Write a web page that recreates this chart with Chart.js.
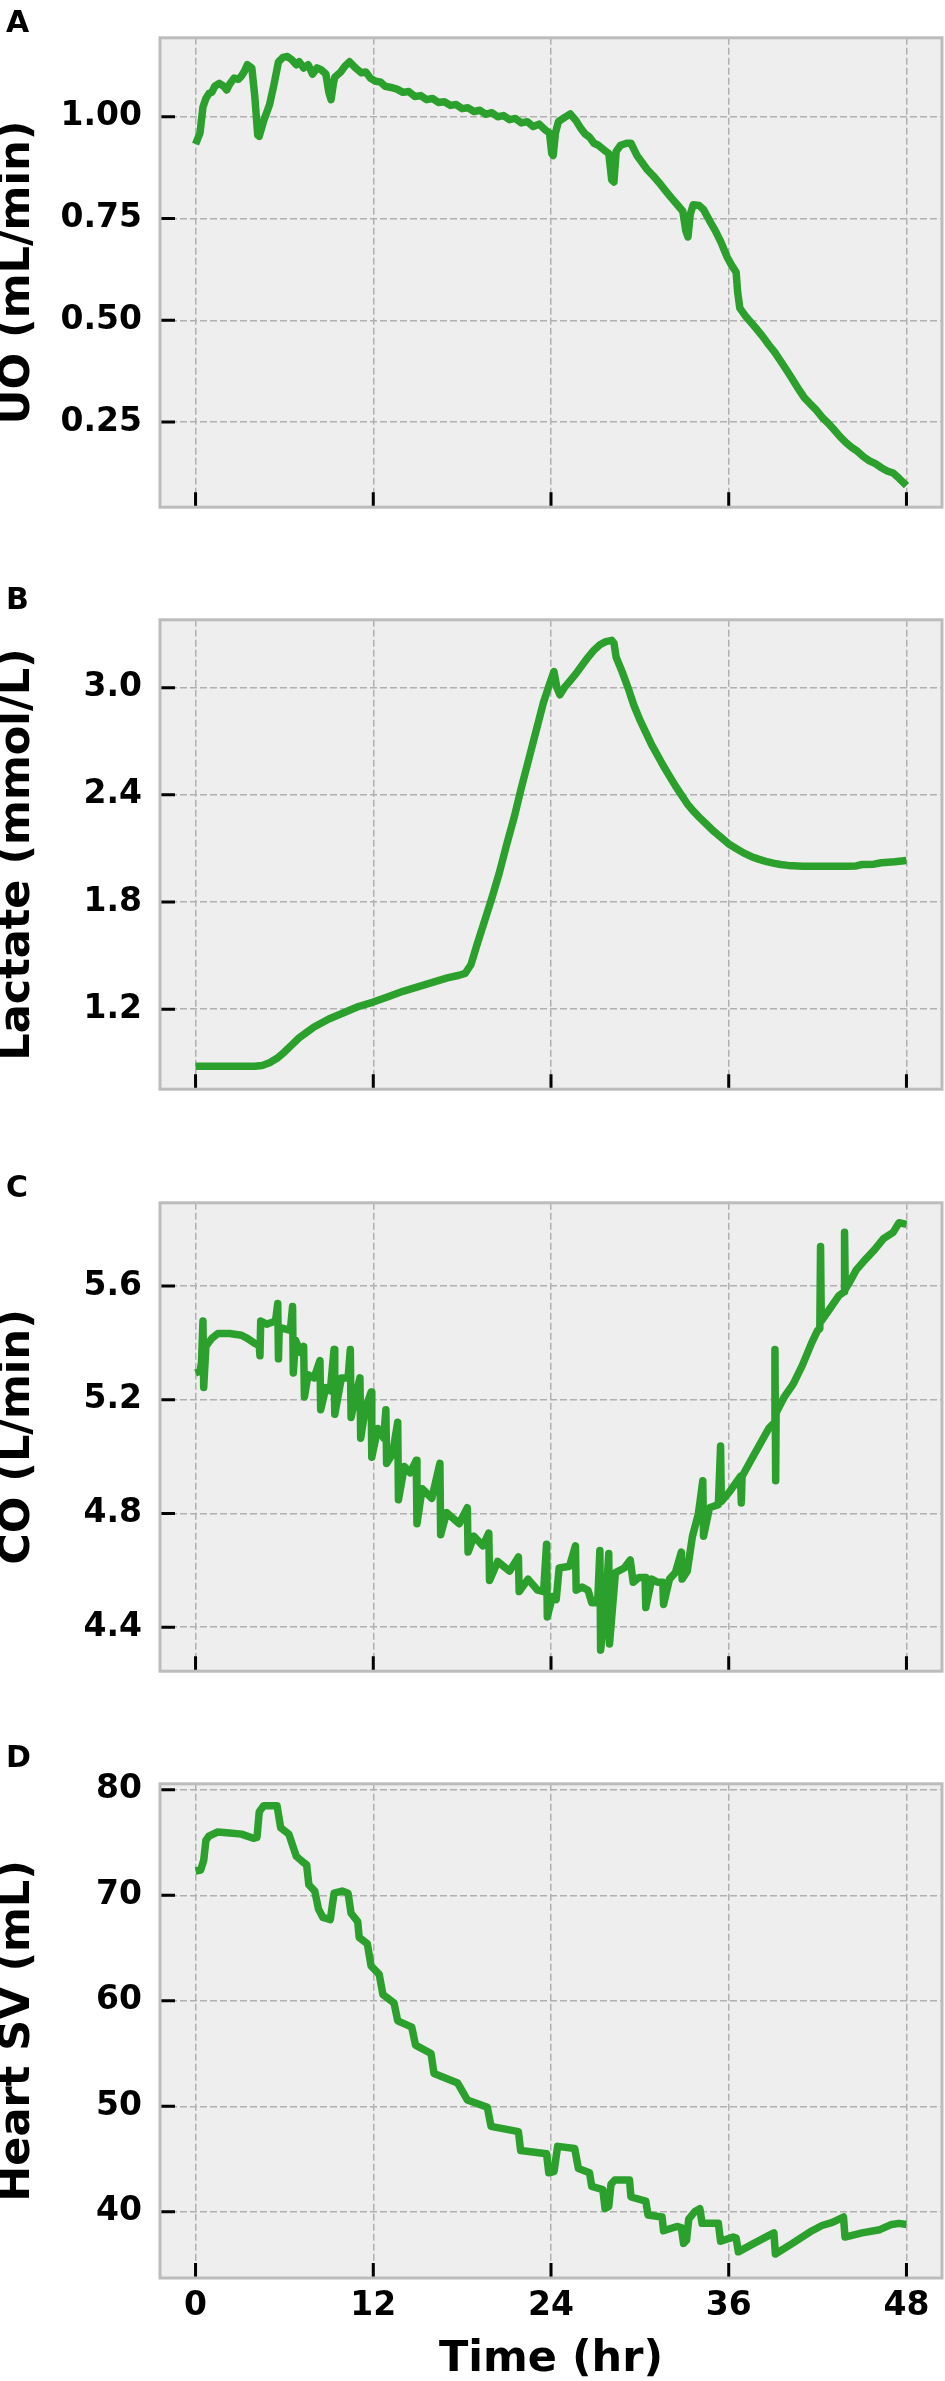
<!DOCTYPE html>
<html>
<head>
<meta charset="utf-8">
<script src="https://cdn.jsdelivr.net/npm/chart.js@4.4.1/dist/chart.umd.min.js"></script>
<style>
  body { margin: 0; background: #fff; }
  #page { position: relative; width: 945px; height: 2381px; }
  canvas { position: absolute; left: 0; display: block; }
  .tag { position: absolute; left: 6px; font: bold 30px "DejaVu Sans"; line-height: 30px; color: #000; }
</style>
</head>
<body>
<div id="page">
  <canvas id="uoChart"></canvas>
  <canvas id="lactateChart"></canvas>
  <canvas id="coChart"></canvas>
  <canvas id="svChart"></canvas>
  <div class="tag" style="top:7px">A</div>
  <div class="tag" style="top:584px">B</div>
  <div class="tag" style="top:1172px">C</div>
  <div class="tag" style="top:1742px">D</div>
</div>
<script>
// x axis ticks (hours)
const hourTicks = [0, 12, 24, 36, 48];

// y axis ticks per panel
const uoTicks = [0.25, 0.50, 0.75, 1.00];
const lactateTicks = [1.2, 1.8, 2.4, 3.0];
const coTicks = [4.4, 4.8, 5.2, 5.6];
const svTicks = [40, 50, 60, 70, 80];

// A: urine output (mL/min)
const uoHours = [0, 0.3, 0.5, 0.7, 0.9, 1.1, 1.3, 1.6, 1.9, 2.1, 2.3, 2.6, 2.9, 3.1, 3.3, 3.5, 3.8, 4.0, 4.2, 4.3,
  4.6, 5.0, 5.3, 5.6, 5.9, 6.2, 6.5, 6.8, 7.0, 7.3, 7.6, 7.9, 8.2, 8.5, 8.8, 9.0, 9.15, 9.3, 9.4, 9.8,
  10.1, 10.4, 10.8, 11.2, 11.5, 11.8, 12.1, 12.5, 12.8, 13.2, 13.6, 14.0, 14.4, 14.8, 15.2, 15.6, 16.0, 16.4, 16.8, 17.2,
  17.6, 18.0, 18.4, 18.8, 19.2, 19.6, 20.0, 20.4, 20.8, 21.2, 21.6, 22.0, 22.4, 22.8, 23.2, 23.6, 23.9, 24.05, 24.15, 24.3,
  24.5, 24.9, 25.3, 25.7, 26.0, 26.3, 26.6, 26.9, 27.2, 27.6, 27.9, 28.1, 28.25, 28.4, 28.7, 29.1, 29.4, 29.8, 30.1, 30.5,
  30.9, 31.3, 31.7, 32.1, 32.5, 32.9, 33.1, 33.25, 33.4, 33.6, 34.0, 34.3, 34.7, 35.1, 35.5, 35.9, 36.2, 36.5, 36.6, 36.75,
  37.1, 37.5, 37.9, 38.3, 38.7, 39.1, 39.5, 39.9, 40.3, 40.7, 41.1, 41.5, 41.9, 42.3, 42.7, 43.1, 43.5, 43.9, 44.3, 44.7,
  45.1, 45.5, 45.9, 46.3, 46.7, 47.1, 47.5, 48.0];
const uoValues = [0.933, 0.96, 1.024, 1.045, 1.057, 1.06, 1.075, 1.082, 1.075, 1.066, 1.08, 1.095, 1.092, 1.10, 1.112, 1.128, 1.12, 1.05, 0.955, 0.952,
  0.99, 1.03, 1.08, 1.135, 1.146, 1.148, 1.14, 1.128, 1.135, 1.12, 1.128, 1.105, 1.12, 1.115, 1.105, 1.06, 1.042, 1.08, 1.097, 1.11,
  1.125, 1.135, 1.12, 1.108, 1.11, 1.095, 1.088, 1.085, 1.075, 1.072, 1.068, 1.06, 1.062, 1.05, 1.052, 1.042, 1.045, 1.035, 1.037, 1.028,
  1.03, 1.02, 1.022, 1.013, 1.016, 1.006, 1.01, 1.0, 1.003, 0.993, 0.996, 0.985, 0.988, 0.976, 0.982, 0.968, 0.96, 0.91, 0.905, 0.96,
  0.988, 0.998, 1.007, 0.99, 0.972, 0.958, 0.95, 0.935, 0.93, 0.918, 0.91, 0.845, 0.84, 0.915, 0.93, 0.935, 0.935, 0.905, 0.89, 0.87,
  0.855, 0.838, 0.82, 0.802, 0.785, 0.768, 0.72, 0.705, 0.76, 0.784, 0.782, 0.772, 0.745, 0.72, 0.69, 0.655, 0.635, 0.618, 0.57, 0.53,
  0.512, 0.495, 0.478, 0.46, 0.44, 0.422, 0.40, 0.378, 0.355, 0.332, 0.31, 0.295, 0.28, 0.262, 0.248, 0.232, 0.215, 0.20, 0.188, 0.178,
  0.165, 0.155, 0.148, 0.138, 0.13, 0.125, 0.112, 0.094];

// B: lactate (mmol/L)
const lactateHours = [0, 4.0, 4.5, 5.0, 5.5, 6.0, 6.5, 7.0, 7.5, 8.0, 9.0, 10.0, 11.0, 12.0, 13.0, 14.0, 15.0, 16.0, 17.0, 17.8,
  18.2, 18.6, 19.0, 19.5, 20.0, 20.5, 21.0, 21.5, 22.0, 22.5, 23.0, 23.5, 23.9, 24.2, 24.4, 24.6, 24.9, 25.3, 25.7, 26.1,
  26.5, 26.9, 27.3, 27.7, 28.1, 28.25, 28.4, 28.8, 29.2, 29.6, 30.0, 30.4, 30.8, 31.2, 31.6, 32.0, 32.4, 32.8, 33.2, 33.6,
  34.0, 34.5, 35.0, 35.5, 36.0, 36.5, 37.0, 37.5, 38.0, 38.5, 39.0, 39.5, 40.0, 41.0, 42.0, 43.0, 44.0, 44.6, 45.0, 45.8,
  46.3, 47.2, 48.0];
const lactateValues = [0.88, 0.88, 0.885, 0.90, 0.925, 0.96, 1.0, 1.04, 1.07, 1.10, 1.145, 1.18, 1.215, 1.24, 1.27, 1.30, 1.325, 1.35, 1.375, 1.39,
  1.40, 1.45, 1.56, 1.69, 1.82, 1.96, 2.12, 2.27, 2.44, 2.60, 2.76, 2.92, 3.02, 3.09, 3.0, 2.96, 3.0, 3.04, 3.08, 3.125,
  3.17, 3.21, 3.24, 3.258, 3.265, 3.25, 3.17, 3.09, 3.0, 2.90, 2.82, 2.75, 2.68, 2.62, 2.56, 2.505, 2.45, 2.40, 2.35, 2.31,
  2.275, 2.235, 2.195, 2.16, 2.125, 2.10, 2.075, 2.055, 2.04, 2.028, 2.018, 2.01, 2.005, 2.0, 2.0, 2.0, 2.0, 2.002, 2.01, 2.012,
  2.02, 2.025, 2.032];

// C: cardiac output (L/min)
const coHours = [0, 0.3, 0.4, 0.5, 0.55, 0.7, 1.1, 1.5, 2.3, 3.1, 3.5, 3.95, 4.3, 4.35, 4.4, 4.8, 5.4, 5.55, 5.6, 5.65,
  6.4, 6.55, 6.6, 6.75, 7.1, 7.3, 7.35, 7.6, 8.0, 8.4, 8.45, 8.8, 9.1, 9.35, 9.4, 9.85, 10.3, 10.45, 10.5, 10.9,
  11.1, 11.15, 11.45, 11.85, 11.9, 12.3, 12.7, 12.85, 12.9, 13.3, 13.65, 13.7, 14.1, 14.5, 14.9, 14.95, 15.3, 15.95, 16.5, 16.55,
  16.95, 17.8, 18.35, 18.4, 18.8, 19.4, 19.8, 19.85, 20.4, 21.2, 21.8, 21.85, 22.45, 23.1, 23.5, 23.7, 23.75, 24.1, 24.35, 24.55,
  25.25, 25.65, 25.7, 26.1, 26.5, 26.75, 27.15, 27.3, 27.35, 27.7, 27.9, 27.95, 28.35, 28.95, 29.35, 29.55, 29.95, 30.35, 30.4, 30.8,
  31.2, 31.55, 31.6, 32.0, 32.4, 32.8, 32.85, 33.2, 33.55, 33.95, 34.25, 34.3, 34.7, 35.3, 35.45, 35.5, 36.05, 36.8, 36.85, 36.9,
  37.5, 38.1, 38.7, 39.1, 39.12, 39.17, 39.2, 39.75, 40.35, 40.97, 41.6, 42.0, 42.15, 42.2, 42.25, 42.85, 43.45, 43.8, 43.82, 43.87,
  44.25, 44.6, 45.25, 45.85, 46.45, 47.1, 47.5, 48.0];
const coValues = [5.294, 5.30, 5.33, 5.477, 5.243, 5.388, 5.416, 5.433, 5.433, 5.427, 5.416, 5.40, 5.39, 5.355, 5.477, 5.466, 5.477, 5.539, 5.344, 5.455,
  5.444, 5.528, 5.294, 5.41, 5.366, 5.388, 5.21, 5.288, 5.277, 5.338, 5.165, 5.243, 5.232, 5.377, 5.149, 5.277, 5.277, 5.377, 5.138, 5.232,
  5.277, 5.065, 5.165, 5.227, 4.998, 5.099, 5.065, 5.165, 4.976, 5.009, 5.121, 4.848, 4.965, 4.943, 4.987, 4.764, 4.887, 4.853, 4.976, 4.725,
  4.803, 4.764, 4.82, 4.664, 4.72, 4.686, 4.731, 4.564, 4.631, 4.597, 4.647, 4.525, 4.569, 4.53, 4.525, 4.692, 4.436, 4.508, 4.497, 4.608,
  4.614, 4.686, 4.53, 4.541, 4.53, 4.486, 4.486, 4.67, 4.319, 4.486, 4.659, 4.341, 4.592, 4.608, 4.636, 4.558, 4.575, 4.575, 4.469, 4.569,
  4.558, 4.558, 4.48, 4.569, 4.592, 4.664, 4.569, 4.597, 4.72, 4.798, 4.915, 4.72, 4.82, 4.831, 5.037, 4.842, 4.876, 4.931, 4.837, 4.93,
  4.987, 5.043, 5.099, 5.12, 5.377, 4.915, 5.154, 5.21, 5.255, 5.321, 5.40, 5.444, 5.45, 5.739, 5.477, 5.522, 5.567, 5.58, 5.789, 5.589,
  5.622, 5.656, 5.695, 5.728, 5.767, 5.789, 5.823, 5.817];

// D: heart stroke volume (mL)
const svHours = [0, 0.35, 0.55, 0.7, 0.9, 1.5, 2.3, 3.1, 3.9, 4.15, 4.3, 4.6, 5.5, 5.75, 6.3, 6.8, 7.3, 7.5, 7.65, 8.05,
  8.3, 8.6, 9.1, 9.35, 9.9, 10.3, 10.5, 10.95, 11.05, 11.6, 11.85, 12.4, 12.65, 13.4, 13.65, 14.6, 14.85, 15.9, 16.1, 17.7,
  18.35, 19.7, 19.95, 21.8, 21.95, 23.7, 23.85, 24.2, 24.45, 25.6, 25.85, 26.6, 26.75, 27.5, 27.65, 27.9, 28.05, 28.3, 29.3, 29.4,
  30.4, 30.55, 31.5, 31.6, 32.5, 32.8, 32.95, 33.15, 33.3, 33.7, 34.05, 34.2, 35.3, 35.45, 36.3, 36.5, 36.65, 37.7, 38.5, 39.05,
  39.15, 40.3, 41.5, 42.3, 43.0, 43.75, 43.85, 45.0, 46.2, 47.0, 47.5, 48.0];
const svValues = [72.3, 72.4, 73.3, 75.2, 75.6, 76.0, 75.9, 75.8, 75.4, 75.5, 77.9, 78.5, 78.5, 76.4, 75.8, 73.7, 73.1, 72.9, 71.0, 70.4,
  68.7, 67.9, 67.7, 70.2, 70.4, 70.2, 68.3, 67.5, 66.0, 65.4, 63.3, 62.5, 60.6, 59.8, 58.1, 57.5, 55.8, 55.0, 53.1, 52.2,
  50.6, 49.9, 48.1, 47.6, 45.8, 45.5, 43.7, 43.8, 46.2, 46.0, 44.1, 43.7, 42.4, 42.1, 40.3, 40.5, 42.6, 43.0, 43.0, 41.4,
  41.0, 39.7, 39.5, 38.2, 38.6, 38.5, 37.0, 37.3, 39.3, 40.0, 40.3, 38.9, 38.9, 37.2, 37.6, 37.5, 36.2, 37.0, 37.6, 38.0,
  36.0, 37.0, 38.1, 38.7, 39.0, 39.5, 37.6, 38.0, 38.3, 38.8, 38.9, 38.8];

const fontFamily = "DejaVu Sans";
const lineGreen = "#2ca02c";

// grey panel background, frame and inward tick marks
const panelFrame = {
  id: "panelFrame",
  beforeDraw(chart) {
    const { ctx, chartArea: a } = chart;
    ctx.save();
    ctx.fillStyle = "#eeeeee";
    ctx.fillRect(a.left, a.top, a.right - a.left, a.bottom - a.top);
    ctx.restore();
  },
  afterDraw(chart) {
    const { ctx, chartArea: a, scales } = chart;
    ctx.save();
    ctx.strokeStyle = "#000";
    ctx.lineWidth = 3;
    ctx.beginPath();
    scales.x.ticks.forEach(t => {
      const px = scales.x.getPixelForValue(t.value);
      ctx.moveTo(px, a.bottom);
      ctx.lineTo(px, a.bottom - 15);
    });
    scales.y.ticks.forEach(t => {
      const py = scales.y.getPixelForValue(t.value);
      ctx.moveTo(a.left, py);
      ctx.lineTo(a.left + 15, py);
    });
    ctx.stroke();
    ctx.strokeStyle = "#bcbcbc";
    ctx.lineWidth = 3;
    ctx.strokeRect(a.left, a.top, a.right - a.left, a.bottom - a.top);
    ctx.restore();
  }
};

const makePanel = (id, canvasTop, height, xHeight, hours, values, yTicks, yMin, yMax, decimals, yTitle, showTime) => {
  const canvas = document.getElementById(id);
  canvas.width = 945;
  canvas.height = height;
  canvas.style.top = canvasTop + "px";

  return new Chart(canvas, {
    type: "line",
    data: {
      datasets: [{
        data: hours.map((h, i) => ({ x: h, y: values[i] })),
        borderColor: lineGreen,
        borderWidth: 7.5,
        borderJoinStyle: "round",
        pointRadius: 0,
        tension: 0,
        fill: false,
      }],
    },
    options: {
      responsive: false,
      animation: false,
      devicePixelRatio: 1,
      layout: { padding: { top: 2, right: 3, left: 0, bottom: 0 } },
      plugins: { legend: { display: false }, tooltip: { enabled: false } },
      scales: {
        x: {
          type: "linear",
          min: -2.4,
          max: 50.4,
          afterBuildTicks: s => { s.ticks = hourTicks.map(v => ({ value: v })); },
          afterFit: s => { s.height = xHeight; },
          grid: { color: "#b0b0b0", lineWidth: 1.5, drawTicks: false },
          border: { display: false, dash: [7, 3] },
          ticks: {
            display: showTime,
            padding: 9,
            color: "#000",
            font: { family: fontFamily, size: 33, weight: "bold" },
            callback: v => String(v),
          },
          title: {
            display: showTime,
            text: "Time (hr)",
            color: "#000",
            padding: 0,
            font: { family: fontFamily, size: 43, weight: "bold", lineHeight: 1 },
          },
        },
        y: {
          min: yMin,
          max: yMax,
          afterBuildTicks: s => { s.ticks = yTicks.map(v => ({ value: v })); },
          afterFit: s => { s.width = 160; },
          grid: { color: "#b0b0b0", lineWidth: 1.5, drawTicks: false },
          border: { display: false, dash: [7, 3] },
          ticks: {
            padding: 18,
            color: "#000",
            font: { family: fontFamily, size: 33, weight: "bold" },
            callback: v => v.toFixed(decimals),
          },
          title: {
            display: true,
            text: yTitle,
            color: "#000",
            padding: 0,
            font: { family: fontFamily, size: 43, weight: "bold", lineHeight: 0.84 },
          },
        },
      },
    },
    plugins: [panelFrame],
  });
};

// box tops/bottoms: A 2-531, B 584-1113, C 1167-1695, D 1748-2278
makePanel("uoChart", 0, 545, 14, uoHours, uoValues, uoTicks, 0.041, 1.194, 2, "UO (mL/min)", false);
makePanel("lactateChart", 582, 545, 14, lactateHours, lactateValues, lactateTicks, 0.752, 3.38, 1, "Lactate (mmol/L)", false);
makePanel("coChart", 1165, 544, 14, coHours, coValues, coTicks, 4.245, 5.893, 1, "CO (L/min)", false);
makePanel("svChart", 1746, 635, 103, svHours, svValues, svTicks, 33.72, 80.57, 0, "Heart SV (mL)", true);
</script>
</body>
</html>
